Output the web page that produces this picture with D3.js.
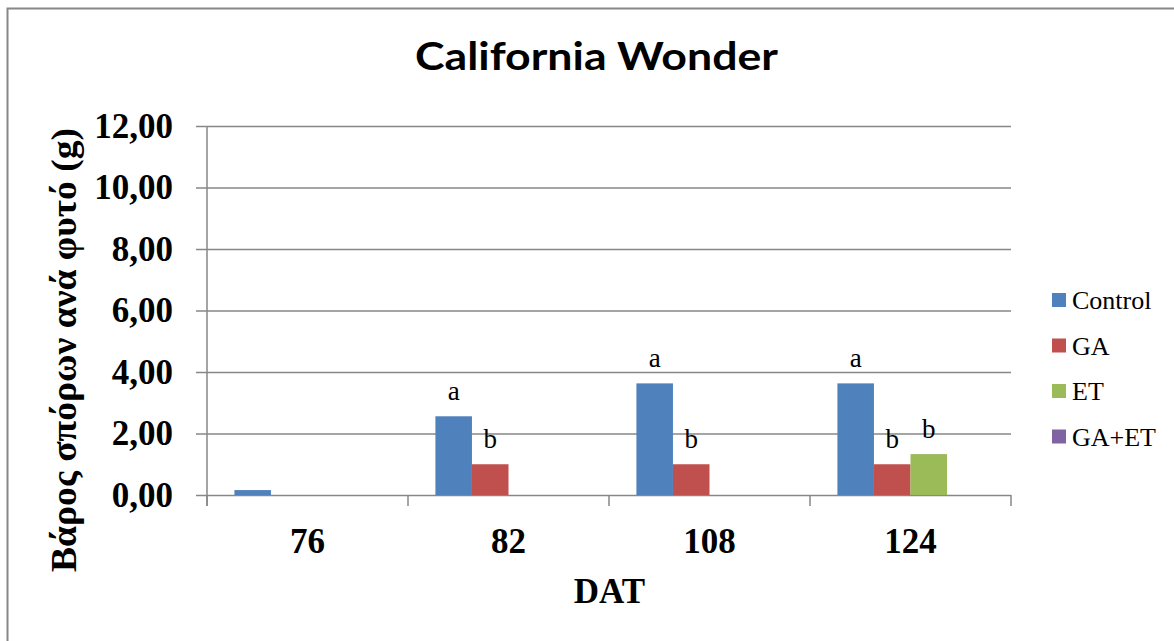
<!DOCTYPE html>
<html>
<head>
<meta charset="utf-8">
<script src="https://cdn.jsdelivr.net/npm/d3@7"></script>
<style>
  html, body { margin: 0; padding: 0; background: #fff; }
  svg { display: block; }
  .serif { font-family: "Liberation Serif", "Times New Roman", Times, serif; }
</style>
</head>
<body>
<svg id="chart" width="1174" height="641"></svg>
<script>
// Seed weight per plant, California Wonder pepper, by days after transplanting
const categories = ["76", "82", "108", "124"];
const seriesNames = ["Control", "GA", "ET", "GA+ET"];
const controlValues = [0.16, 2.56, 3.63, 3.63];
const gaValues = [null, 1.00, 1.00, 1.00];
const etValues = [null, null, null, 1.33];
const gaEtValues = [null, null, null, null];
const controlLetters = ["", "a", "a", "a"];
const gaLetters = ["", "b", "b", "b"];
const etLetters = ["", "", "", "b"];
const gaEtLetters = ["", "", "", ""];
const yTicks = [0, 2, 4, 6, 8, 10, 12];
const colors = ["#4F81BD", "#C0504D", "#9BBB59", "#8064A2"];

const seriesValues = [controlValues, gaValues, etValues, gaEtValues];
const seriesLetters = [controlLetters, gaLetters, etLetters, gaEtLetters];

const svg = d3.select("#chart");
const gray = "#878787";

const plot = { left: 207, right: 1011, top: 126, bottom: 495 };

// outer chart frame (right and bottom edges fall outside the view)
svg.append("rect")
  .attr("x", 7.5).attr("y", 8.5)
  .attr("width", 1300).attr("height", 800)
  .attr("fill", "none").attr("stroke", gray).attr("stroke-width", 2);

const y = d3.scaleLinear().domain([0, 12]).range([plot.bottom, plot.top]);
const x0 = d3.scaleBand().domain(categories).range([plot.left, plot.right]).paddingInner(0).paddingOuter(0);
const x1 = d3.scaleBand().domain(seriesNames).range([0, x0.bandwidth()]).paddingInner(0).paddingOuter(0.75);
const color = d3.scaleOrdinal().domain(seriesNames).range(colors);

// horizontal gridlines
const grid = svg.append("g")
  .attr("transform", `translate(${plot.left},0)`)
  .call(d3.axisLeft(y).tickValues(yTicks).tickSize(-(plot.right - plot.left)).tickFormat(""));
grid.select(".domain").remove();
grid.selectAll("line").attr("stroke", gray).attr("stroke-width", 1.5);

// y axis with outward ticks
const yAxis = svg.append("g")
  .attr("transform", `translate(${plot.left},0)`)
  .call(d3.axisLeft(y).tickValues(yTicks).tickSize(11).tickPadding(23)
    .tickFormat(d => d3.format(".2f")(d).replace(".", ",")));
yAxis.attr("font-family", null).attr("font-size", null);
yAxis.select(".domain").remove();
yAxis.selectAll("line").attr("stroke", gray).attr("stroke-width", 1.5);
yAxis.selectAll("text")
  .attr("class", "serif")
  .attr("fill", "#000")
  .style("font-size", "35px").style("font-weight", "bold");

svg.append("line")
  .attr("x1", plot.left).attr("x2", plot.left)
  .attr("y1", plot.top).attr("y2", plot.bottom + 11)
  .attr("stroke", gray).attr("stroke-width", 1.5);

// x axis: labels at category centres, tick marks at category boundaries
const xAxis = svg.append("g")
  .attr("transform", `translate(0,${plot.bottom})`)
  .call(d3.axisBottom(x0).tickSize(0).tickPadding(33));
xAxis.attr("font-family", null).attr("font-size", null);
xAxis.select(".domain").remove();
xAxis.selectAll("text")
  .attr("class", "serif")
  .attr("fill", "#000")
  .style("font-size", "35px").style("font-weight", "bold");

const boundaries = categories.map(c => x0(c)).concat([x0(categories[categories.length - 1]) + x0.bandwidth()]);
svg.append("g").selectAll("line")
  .data(boundaries)
  .join("line")
  .attr("x1", d => d).attr("x2", d => d)
  .attr("y1", plot.bottom).attr("y2", plot.bottom + 11)
  .attr("stroke", gray).attr("stroke-width", 1.5);

// bars
const barData = [];
seriesNames.forEach((s, si) => {
  categories.forEach((c, ci) => {
    const v = seriesValues[si][ci];
    if (v !== null) barData.push({ series: s, cat: c, value: v, letter: seriesLetters[si][ci] });
  });
});

svg.append("g").selectAll("rect")
  .data(barData)
  .join("rect")
  .attr("x", d => x0(d.cat) + x1(d.series))
  .attr("y", d => y(d.value))
  .attr("width", x1.bandwidth())
  .attr("height", d => y(0) - y(d.value))
  .attr("fill", d => color(d.series));

// significance letters above bars
svg.append("g").selectAll("text")
  .data(barData.filter(d => d.letter))
  .join("text")
  .attr("class", "serif")
  .attr("x", d => x0(d.cat) + x1(d.series) + x1.bandwidth() / 2)
  .attr("y", d => y(d.value) - 16.5)
  .attr("text-anchor", "middle")
  .style("font-size", "27px")
  .text(d => d.letter);

// title
svg.append("text")
  .attr("x", 596.5).attr("y", 70)
  .attr("text-anchor", "middle")
  .attr("textLength", 363).attr("lengthAdjust", "spacingAndGlyphs")
  .style("font-family", "Lato, 'Open Sans', sans-serif")
  .style("font-size", "39px").style("font-weight", "bold")
  .text("California Wonder");

// axis titles
svg.append("text")
  .attr("class", "serif")
  .attr("transform", "translate(76,350) rotate(-90)")
  .attr("text-anchor", "middle")
  .attr("textLength", 444).attr("lengthAdjust", "spacingAndGlyphs")
  .style("font-size", "36px").style("font-weight", "bold")
  .text("Βάρος σπόρων ανά φυτό (g)");

svg.append("text")
  .attr("class", "serif")
  .attr("x", 609.5).attr("y", 603)
  .attr("text-anchor", "middle")
  .style("font-size", "35px").style("font-weight", "bold")
  .text("DAT");

// legend
const legend = svg.append("g").selectAll("g")
  .data(seriesNames)
  .join("g")
  .attr("transform", (d, i) => `translate(1052,${300 + i * 45.5})`);
legend.append("rect")
  .attr("x", 0).attr("y", -7).attr("width", 14).attr("height", 14)
  .attr("fill", d => color(d));
legend.append("text")
  .attr("class", "serif")
  .attr("x", 20).attr("y", 9)
  .style("font-size", "26px")
  .text(d => d);
</script>
</body>
</html>
